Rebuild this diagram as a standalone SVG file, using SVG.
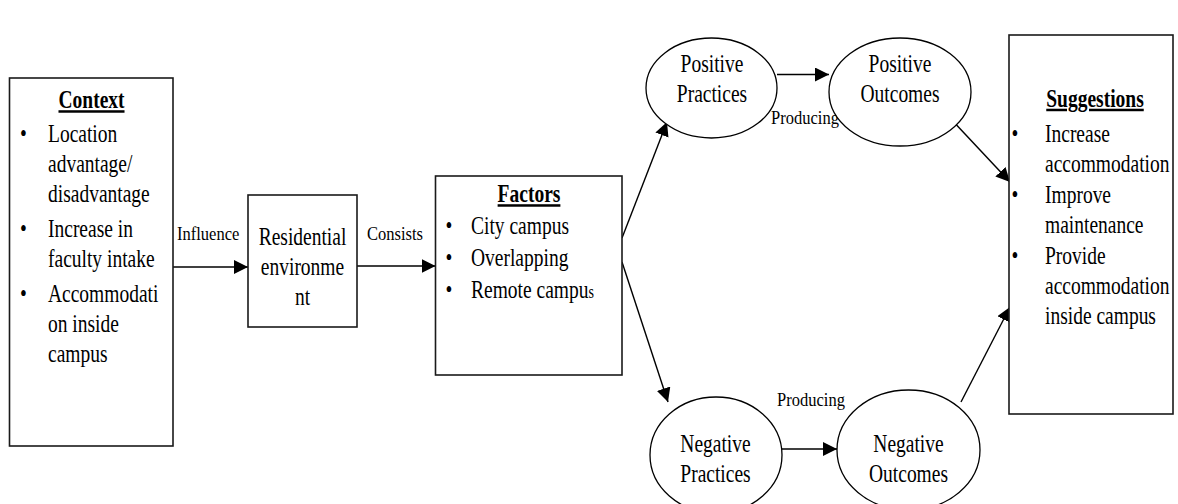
<svg xmlns="http://www.w3.org/2000/svg" width="1178" height="504" viewBox="0 0 1178 504">
  <defs>
    <marker id="arrow" markerUnits="userSpaceOnUse" markerWidth="15" markerHeight="15" refX="14" refY="7" orient="auto">
      <path d="M0,0 L14,7 L0,14 Z" fill="#000"/>
    </marker>
    <style>
      .box { fill: #fff; stroke: #1a1a1a; stroke-width: 1.6; }
      .oval { fill: #fff; stroke: #000; stroke-width: 1.3; }
      .edge { fill: none; stroke: #000; stroke-width: 1.4; marker-end: url(#arrow); }
      .t, .h, .lbl { font-family: 'Liberation Serif', 'Tinos', 'DejaVu Serif', serif; fill: #000; }
      .t { font-size: 25px; }
      .h { font-size: 25px; font-weight: bold; text-decoration: underline; }
      .lbl { font-size: 19px; }
      .c { text-anchor: middle; }
    </style>
  </defs>

  <rect width="1178" height="504" fill="#fff"/>

  <!-- connectors -->
  <g id="connectors">
    <path class="edge" d="M173,267 L248,267"/>
    <path class="edge" d="M357,266 L435.5,266"/>
    <path class="edge" d="M622,238 L667,122"/>
    <path class="edge" d="M622,262 L668,402"/>
    <path class="edge" d="M777,74.5 L829,74.5"/>
    <path class="edge" d="M782,449 L837,449"/>
    <path class="edge" d="M950,118 L1010,182"/>
    <path class="edge" d="M961,402 L1010,307"/>
    <text class="lbl" transform="translate(177,240) scale(0.87,1)">Influence</text>
    <text class="lbl" transform="translate(367,240) scale(0.87,1)">Consists</text>
    <text class="lbl" transform="translate(771,124) scale(0.87,1)">Producing</text>
    <text class="lbl" transform="translate(777,406) scale(0.87,1)">Producing</text>
  </g>

  <!-- context -->
  <g id="context">
    <rect class="box" x="9.5" y="78" width="163.5" height="368"/>
    <text class="h c" transform="translate(91.5,108) scale(0.78,1)">Context</text>
    <text class="t c" transform="translate(23.5,141.7) scale(0.78,1)">•</text>
    <text class="t" transform="translate(48,141.7) scale(0.78,1)">Location</text>
    <text class="t" transform="translate(48,171.7) scale(0.78,1)">advantage/</text>
    <text class="t" transform="translate(48,201.7) scale(0.78,1)">disadvantage</text>
    <text class="t c" transform="translate(23.5,236.7) scale(0.78,1)">•</text>
    <text class="t" transform="translate(48,236.7) scale(0.78,1)">Increase in</text>
    <text class="t" transform="translate(48,266.7) scale(0.78,1)">faculty intake</text>
    <text class="t c" transform="translate(23.5,301.7) scale(0.78,1)">•</text>
    <text class="t" transform="translate(48,301.7) scale(0.78,1)">Accommodati</text>
    <text class="t" transform="translate(48,331.7) scale(0.78,1)">on inside</text>
    <text class="t" transform="translate(48,361.7) scale(0.78,1)">campus</text>
  </g>

  <!-- residential environment -->
  <g id="residential">
    <rect class="box" x="248" y="195" width="109" height="132"/>
    <text class="t c" transform="translate(302.5,245) scale(0.78,1)">Residential</text>
    <text class="t c" transform="translate(302.5,275) scale(0.78,1)">environme</text>
    <text class="t c" transform="translate(302.5,305) scale(0.78,1)">nt</text>
  </g>

  <!-- factors -->
  <g id="factors">
    <rect class="box" x="435.5" y="176" width="186.5" height="199"/>
    <text class="h c" transform="translate(529,202) scale(0.78,1)">Factors</text>
    <text class="t c" transform="translate(449,233.5) scale(0.78,1)">•</text>
    <text class="t" transform="translate(471,233.5) scale(0.78,1)">City campus</text>
    <text class="t c" transform="translate(449,265.5) scale(0.78,1)">•</text>
    <text class="t" transform="translate(471,265.5) scale(0.78,1)">Overlapping</text>
    <text class="t c" transform="translate(449,297.5) scale(0.78,1)">•</text>
    <text class="t" transform="translate(471,297.5) scale(0.78,1)">Remote campu<tspan font-size="18">s</tspan></text>
  </g>

  <!-- positive practices -->
  <g id="positive-practices">
    <ellipse class="oval" cx="711.5" cy="88" rx="65.5" ry="50"/>
    <text class="t c" transform="translate(712,71.7) scale(0.78,1)">Positive</text>
    <text class="t c" transform="translate(712,101.7) scale(0.78,1)">Practices</text>
  </g>

  <!-- positive outcomes -->
  <g id="positive-outcomes">
    <ellipse class="oval" cx="900" cy="92" rx="71" ry="54"/>
    <text class="t c" transform="translate(900,71.7) scale(0.78,1)">Positive</text>
    <text class="t c" transform="translate(900,101.7) scale(0.78,1)">Outcomes</text>
  </g>

  <!-- negative practices -->
  <g id="negative-practices">
    <ellipse class="oval" cx="716" cy="455" rx="66" ry="58"/>
    <text class="t c" transform="translate(715.5,451.7) scale(0.78,1)">Negative</text>
    <text class="t c" transform="translate(715.5,481.7) scale(0.78,1)">Practices</text>
  </g>

  <!-- negative outcomes -->
  <g id="negative-outcomes">
    <ellipse class="oval" cx="908.5" cy="450" rx="71.5" ry="60"/>
    <text class="t c" transform="translate(908.5,451.7) scale(0.78,1)">Negative</text>
    <text class="t c" transform="translate(908.5,481.7) scale(0.78,1)">Outcomes</text>
  </g>

  <!-- suggestions -->
  <g id="suggestions">
    <rect class="box" x="1009" y="35" width="164" height="379"/>
    <text class="h c" transform="translate(1095,106.5) scale(0.78,1)">Suggestions</text>
    <text class="t c" transform="translate(1015,142) scale(0.78,1)">•</text>
    <text class="t" transform="translate(1045,142) scale(0.78,1)">Increase</text>
    <text class="t" transform="translate(1045,172) scale(0.78,1)">accommodation</text>
    <text class="t c" transform="translate(1015,203) scale(0.78,1)">•</text>
    <text class="t" transform="translate(1045,203) scale(0.78,1)">Improve</text>
    <text class="t" transform="translate(1045,233) scale(0.78,1)">maintenance</text>
    <text class="t c" transform="translate(1015,264) scale(0.78,1)">•</text>
    <text class="t" transform="translate(1045,264) scale(0.78,1)">Provide</text>
    <text class="t" transform="translate(1045,294) scale(0.78,1)">accommodation</text>
    <text class="t" transform="translate(1045,324) scale(0.78,1)">inside campus</text>
  </g>
</svg>
